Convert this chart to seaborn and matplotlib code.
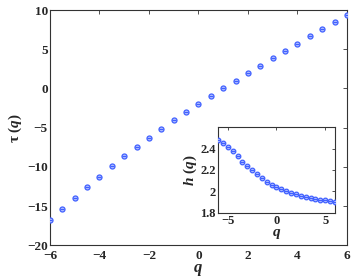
import numpy as np
import pandas as pd
import matplotlib
matplotlib.use("Agg")
import matplotlib.pyplot as plt
import seaborn as sns

q_values = [-6, -5.5, -5, -4.5, -4, -3.5, -3, -2.5, -2, -1.5, -1, -0.5, 0,
            0.5, 1, 1.5, 2, 2.5, 3, 3.5, 4, 4.5, 5, 5.5, 6]
h_values = [2.478, 2.447, 2.412, 2.375, 2.329, 2.279, 2.24, 2.197, 2.159, 2.124,
            2.09, 2.062, 2.04, 2.022, 2.0, 1.988, 1.972, 1.96, 1.95, 1.94,
            1.932, 1.925, 1.919, 1.91, 1.903]
tau_values = [-16.8, -15.3, -13.95, -12.6, -11.25, -9.9, -8.65, -7.45, -6.25, -5.15,
              -4.05, -3.0, -2.0, -0.98, 0.0, 0.98, 1.94, 2.9, 3.85, 4.79,
              5.73, 6.66, 7.56, 8.5, 9.42]

main_xticks = [-6, -4, -2, 0, 2, 4, 6]
main_yticks = [-20, -15, -10, -5, 0, 5, 10]
inset_xticks = [-5, 0, 5]
inset_yticks = [1.8, 2.0, 2.2, 2.4]
inset_yticklabels = ["1.8", "2", "2.2", "2.4"]

df = pd.DataFrame({"q": q_values, "h": h_values, "tau": tau_values})

sns.set_style("white")
plt.rcParams['font.family'] = ['Liberation Serif', 'DejaVu Serif']
plt.rcParams['mathtext.fontset'] = 'custom'
plt.rcParams['mathtext.it'] = 'Liberation Serif:italic:bold'
plt.rcParams['mathtext.rm'] = 'Liberation Serif:bold'
plt.rcParams['mathtext.bf'] = 'Liberation Serif:bold'

blue = "#4060ff"
fill = "#b8c4ff"

fig = plt.figure(figsize=(3.54, 2.78), dpi=100)
ax = fig.add_axes([0.141, 0.117, 0.839, 0.847])

def draw(a, y, ms):
    sns.scatterplot(data=df, x="q", y=y, ax=a, marker="o", s=ms,
                    facecolor=fill, edgecolor=blue, linewidth=0.9, legend=False, zorder=3)
    sns.scatterplot(data=df, x="q", y=y, ax=a, marker="_", s=ms * 0.8,
                    color=blue, linewidth=0.9, legend=False, zorder=3)

def fmt(t):
    return str(t).replace("-", "\u2212")

draw(ax, "tau", 13)
ax.set_xlim(-6, 6)
ax.set_ylim(-20, 10)
ax.set_xticks(main_xticks)
ax.set_yticks(main_yticks)
ax.set_xticklabels([fmt(t) for t in main_xticks], fontweight="bold", fontsize=9.5)
ax.set_yticklabels([fmt(t) for t in main_yticks], fontweight="bold", fontsize=9.5)
ax.set_xlabel(r"$q$", fontsize=12, labelpad=0)
ax.set_ylabel("\u03c4 ($q$)", fontsize=11, fontweight="bold", labelpad=2)
ax.tick_params(direction="in", top=True, right=True, length=3, width=0.6, pad=1.5, color="#333333")
ax.tick_params(axis="x", pad=3)
for s in ax.spines.values():
    s.set_linewidth(0.8)
    s.set_color("#333333")

ax2 = fig.add_axes([0.616, 0.234, 0.330, 0.309])
draw(ax2, "h", 11)
ax2.set_xlim(-6, 6)
ax2.set_ylim(1.8, 2.6)
ax2.set_xticks(inset_xticks)
ax2.set_yticks(inset_yticks)
ax2.set_xticklabels([fmt(t) for t in inset_xticks], fontweight="bold", fontsize=9)
ax2.set_yticklabels(inset_yticklabels, fontweight="bold", fontsize=9)
ax2.set_xlabel(r"$q$", fontsize=11, labelpad=0)
ax2.set_ylabel(r"$h\ (q)$", fontsize=11, labelpad=1)
ax2.tick_params(direction="in", top=True, right=True, length=2.5, width=0.6, pad=1.5, color="#333333")
for s in ax2.spines.values():
    s.set_linewidth(0.8)
    s.set_color("#333333")

fig.savefig("out.png", dpi=100)
